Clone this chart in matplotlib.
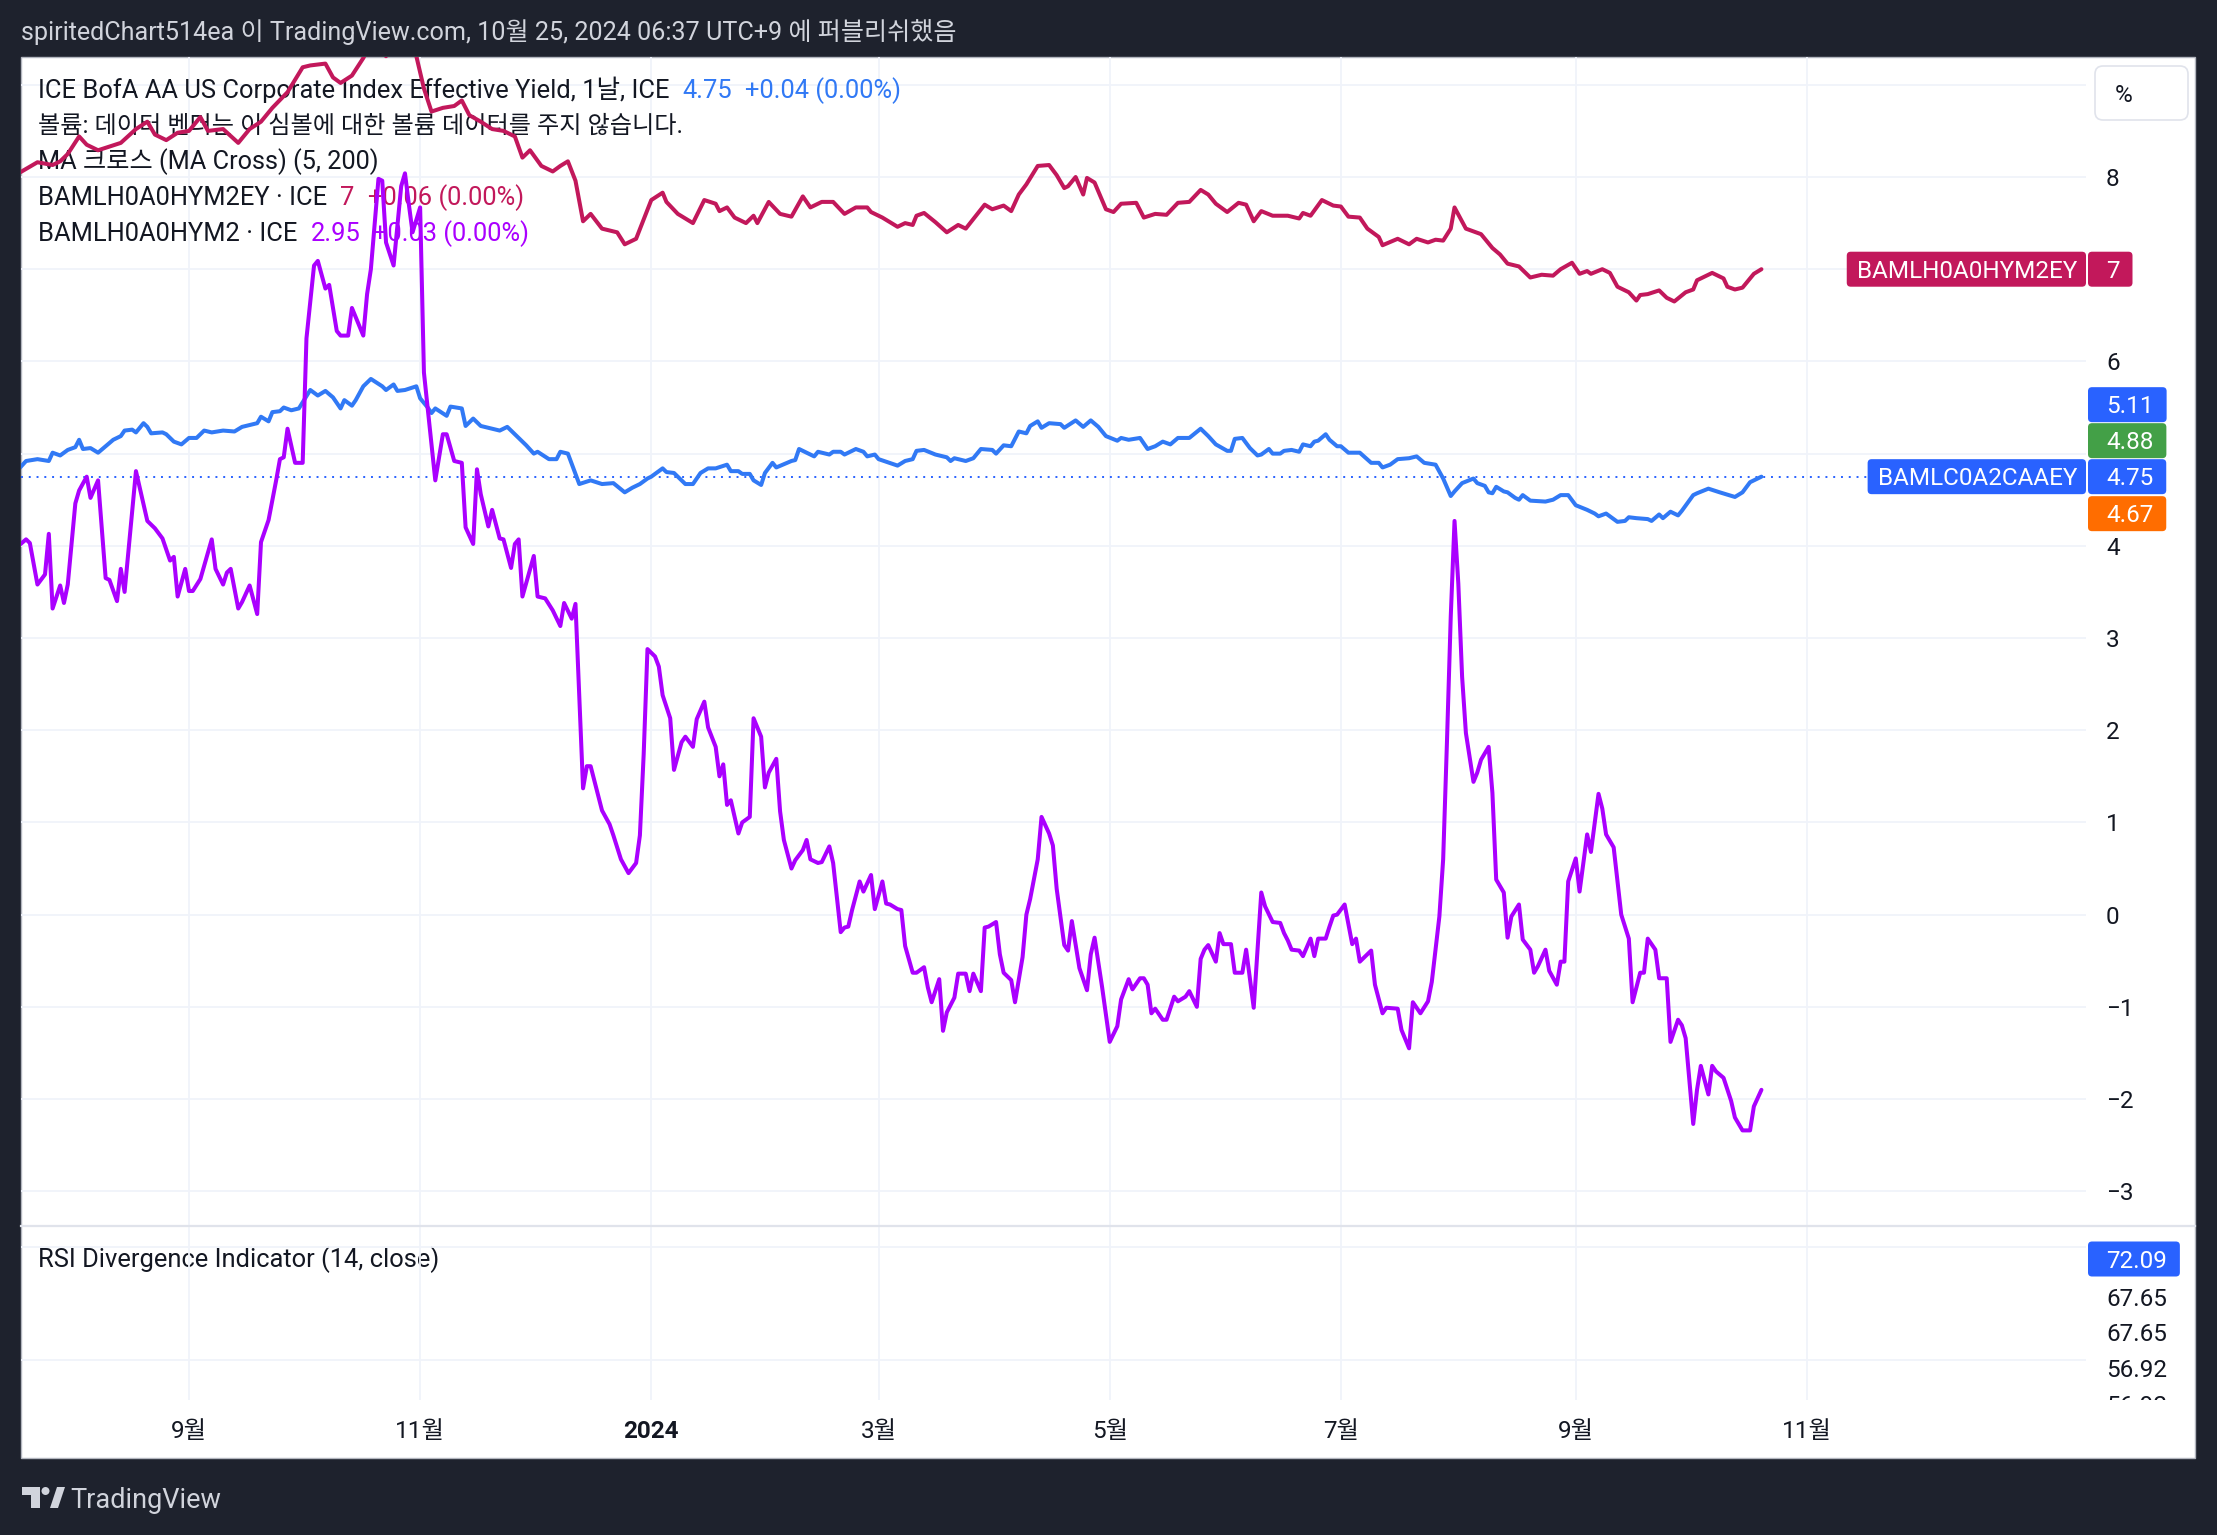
import matplotlib
matplotlib.use("Agg")
import matplotlib.pyplot as plt
import matplotlib.transforms as mtransforms
from matplotlib.patches import Rectangle, FancyBboxPatch, Polygon, Circle
from matplotlib.lines import Line2D
import pandas as pd

plt.rcParams['font.family'] = ['Roboto', 'Noto Sans CJK KR', 'DejaVu Sans']

# ------------------------------------------------------------------ data
hy_ey_dates = [
    "2023-07-18", "2023-07-23", "2023-07-27", "2023-07-29", "2023-07-31",
    "2023-08-03", "2023-08-05", "2023-08-08", "2023-08-11", "2023-08-14", "2023-08-18", "2023-08-21", "2023-08-23", "2023-08-26", "2023-08-29",
    "2023-09-01", "2023-09-04", "2023-09-06", "2023-09-10", "2023-09-14", "2023-09-17", "2023-09-20", "2023-09-23", "2023-09-27",
    "2023-10-01", "2023-10-03", "2023-10-07", "2023-10-09", "2023-10-11", "2023-10-14", "2023-10-17", "2023-10-19", "2023-10-21", "2023-10-23", "2023-10-26", "2023-10-28", "2023-10-30", "2023-10-31",
    "2023-11-02", "2023-11-04", "2023-11-07", "2023-11-10", "2023-11-12", "2023-11-14", "2023-11-17", "2023-11-20", "2023-11-23", "2023-11-26", "2023-11-28", "2023-11-30",
    "2023-12-03", "2023-12-06", "2023-12-08", "2023-12-10", "2023-12-12", "2023-12-14", "2023-12-16", "2023-12-19", "2023-12-23", "2023-12-25", "2023-12-28",
    "2024-01-01", "2024-01-04", "2024-01-05", "2024-01-08", "2024-01-12", "2024-01-15", "2024-01-18", "2024-01-19", "2024-01-21", "2024-01-23", "2024-01-26", "2024-01-28", "2024-01-29",
    "2024-02-01", "2024-02-04", "2024-02-07", "2024-02-10", "2024-02-12", "2024-02-15", "2024-02-18", "2024-02-21", "2024-02-24", "2024-02-27", "2024-02-28",
    "2024-03-02", "2024-03-06", "2024-03-08", "2024-03-10", "2024-03-11", "2024-03-13", "2024-03-16", "2024-03-19", "2024-03-22", "2024-03-24", "2024-03-29", "2024-03-31",
    "2024-04-03", "2024-04-05", "2024-04-07", "2024-04-09", "2024-04-12", "2024-04-15", "2024-04-17", "2024-04-19", "2024-04-20", "2024-04-22", "2024-04-24", "2024-04-25", "2024-04-27", "2024-04-30",
    "2024-05-02", "2024-05-04", "2024-05-08", "2024-05-10", "2024-05-13", "2024-05-16", "2024-05-19", "2024-05-22", "2024-05-25", "2024-05-27", "2024-05-29",
    "2024-06-01", "2024-06-04", "2024-06-06", "2024-06-08", "2024-06-10", "2024-06-13", "2024-06-17", "2024-06-20", "2024-06-21", "2024-06-23", "2024-06-26", "2024-06-29",
    "2024-07-01", "2024-07-03", "2024-07-06", "2024-07-08", "2024-07-11", "2024-07-12", "2024-07-16", "2024-07-19", "2024-07-21", "2024-07-24", "2024-07-26", "2024-07-28", "2024-07-30", "2024-07-31",
    "2024-08-03", "2024-08-07", "2024-08-10", "2024-08-12", "2024-08-14", "2024-08-17", "2024-08-20", "2024-08-23", "2024-08-26", "2024-08-28", "2024-08-31",
    "2024-09-02", "2024-09-04", "2024-09-05", "2024-09-08", "2024-09-10", "2024-09-12", "2024-09-14", "2024-09-15", "2024-09-17", "2024-09-18", "2024-09-20", "2024-09-23", "2024-09-25", "2024-09-27", "2024-09-30",
    "2024-10-02", "2024-10-03", "2024-10-05", "2024-10-07", "2024-10-10", "2024-10-11", "2024-10-13", "2024-10-15", "2024-10-18", "2024-10-20",
]
hy_ey_values = [
    8.04, 8.16, 8.13, 8.17, 8.25,
    8.44, 8.35, 8.29, 8.33, 8.37, 8.52, 8.60, 8.46, 8.40, 8.48,
    8.50, 8.65, 8.50, 8.52, 8.37, 8.52, 8.60, 8.75, 8.92,
    9.19, 9.21, 9.23, 9.08, 9.02, 9.10, 9.29, 9.45, 9.40, 9.31, 9.55, 9.62, 9.48, 9.31,
    8.96, 8.71, 8.75, 8.77, 8.83, 8.67, 8.60, 8.52, 8.50, 8.44, 8.21, 8.29,
    8.12, 8.06, 8.12, 8.17, 7.96, 7.52, 7.60, 7.44, 7.40, 7.27, 7.33,
    7.75, 7.83, 7.73, 7.60, 7.50, 7.75, 7.71, 7.63, 7.67, 7.56, 7.50, 7.58, 7.50,
    7.73, 7.60, 7.57, 7.79, 7.67, 7.73, 7.73, 7.60, 7.67, 7.67, 7.62,
    7.56, 7.46, 7.50, 7.48, 7.58, 7.61, 7.51, 7.40, 7.48, 7.44, 7.70, 7.65,
    7.69, 7.63, 7.81, 7.92, 8.12, 8.13, 8.02, 7.88, 7.90, 8.00, 7.81, 7.99, 7.94, 7.65,
    7.62, 7.71, 7.72, 7.56, 7.60, 7.59, 7.72, 7.73, 7.86, 7.81, 7.71,
    7.62, 7.72, 7.70, 7.52, 7.63, 7.58, 7.58, 7.55, 7.61, 7.58, 7.75, 7.69,
    7.68, 7.57, 7.56, 7.44, 7.35, 7.26, 7.33, 7.27, 7.33, 7.29, 7.32, 7.31, 7.44, 7.67,
    7.44, 7.38, 7.23, 7.16, 7.06, 7.03, 6.91, 6.94, 6.93, 7.00, 7.07,
    6.95, 6.98, 6.95, 7.00, 6.96, 6.81, 6.77, 6.75, 6.66, 6.72, 6.73, 6.77, 6.69, 6.65, 6.75,
    6.78, 6.88, 6.92, 6.96, 6.90, 6.81, 6.78, 6.80, 6.95, 7.00,
]

aa_ey_dates = [
    "2023-07-18", "2023-07-20", "2023-07-23", "2023-07-26", "2023-07-27", "2023-07-29", "2023-07-31",
    "2023-08-02", "2023-08-03", "2023-08-04", "2023-08-06", "2023-08-08", "2023-08-10", "2023-08-12", "2023-08-14", "2023-08-15", "2023-08-17", "2023-08-18", "2023-08-20", "2023-08-21", "2023-08-22", "2023-08-25", "2023-08-26", "2023-08-28", "2023-08-30",
    "2023-09-01", "2023-09-03", "2023-09-05", "2023-09-07", "2023-09-10", "2023-09-13", "2023-09-15", "2023-09-17", "2023-09-19", "2023-09-20", "2023-09-22", "2023-09-23", "2023-09-25", "2023-09-26", "2023-09-28", "2023-09-30",
    "2023-10-03", "2023-10-05", "2023-10-07", "2023-10-09", "2023-10-11", "2023-10-12", "2023-10-14", "2023-10-15", "2023-10-17", "2023-10-19", "2023-10-22", "2023-10-23", "2023-10-25", "2023-10-26", "2023-10-28", "2023-10-31",
    "2023-11-01", "2023-11-03", "2023-11-04", "2023-11-05", "2023-11-08", "2023-11-09", "2023-11-12", "2023-11-13", "2023-11-15", "2023-11-17", "2023-11-20", "2023-11-22", "2023-11-24", "2023-11-27", "2023-11-29",
    "2023-12-01", "2023-12-02", "2023-12-05", "2023-12-07", "2023-12-08", "2023-12-10", "2023-12-13", "2023-12-16", "2023-12-19", "2023-12-22", "2023-12-25", "2023-12-27", "2023-12-29", "2023-12-31",
    "2024-01-01", "2024-01-04", "2024-01-05", "2024-01-07", "2024-01-10", "2024-01-12", "2024-01-14", "2024-01-16", "2024-01-18", "2024-01-21", "2024-01-22", "2024-01-24", "2024-01-25", "2024-01-27", "2024-01-28", "2024-01-30", "2024-01-31",
    "2024-02-02", "2024-02-03", "2024-02-07", "2024-02-08", "2024-02-09", "2024-02-13", "2024-02-14", "2024-02-17", "2024-02-18", "2024-02-20", "2024-02-21", "2024-02-24", "2024-02-26", "2024-02-27", "2024-02-29",
    "2024-03-01", "2024-03-06", "2024-03-08", "2024-03-10", "2024-03-11", "2024-03-13", "2024-03-16", "2024-03-19", "2024-03-20", "2024-03-21", "2024-03-24", "2024-03-26", "2024-03-28", "2024-03-31",
    "2024-04-01", "2024-04-03", "2024-04-05", "2024-04-07", "2024-04-09", "2024-04-10", "2024-04-12", "2024-04-13", "2024-04-15", "2024-04-18", "2024-04-19", "2024-04-22", "2024-04-24", "2024-04-26", "2024-04-28", "2024-04-30",
    "2024-05-03", "2024-05-04", "2024-05-06", "2024-05-09", "2024-05-11", "2024-05-13", "2024-05-15", "2024-05-17", "2024-05-19", "2024-05-22", "2024-05-25", "2024-05-27", "2024-05-29",
    "2024-06-01", "2024-06-02", "2024-06-03", "2024-06-05", "2024-06-07", "2024-06-09", "2024-06-10", "2024-06-12", "2024-06-13", "2024-06-15", "2024-06-16", "2024-06-18", "2024-06-20", "2024-06-21", "2024-06-23", "2024-06-24", "2024-06-25", "2024-06-27", "2024-06-28", "2024-06-30",
    "2024-07-01", "2024-07-03", "2024-07-06", "2024-07-09", "2024-07-11", "2024-07-12", "2024-07-14", "2024-07-16", "2024-07-19", "2024-07-21", "2024-07-23", "2024-07-26", "2024-07-28", "2024-07-30", "2024-07-31",
    "2024-08-02", "2024-08-05", "2024-08-06", "2024-08-08", "2024-08-09", "2024-08-10", "2024-08-11", "2024-08-13", "2024-08-14", "2024-08-16", "2024-08-17", "2024-08-18", "2024-08-20", "2024-08-24", "2024-08-26", "2024-08-28", "2024-08-30",
    "2024-09-01", "2024-09-04", "2024-09-06", "2024-09-07", "2024-09-09", "2024-09-12", "2024-09-14", "2024-09-15", "2024-09-17", "2024-09-20", "2024-09-21", "2024-09-23", "2024-09-24", "2024-09-26", "2024-09-28", "2024-09-29",
    "2024-10-02", "2024-10-03", "2024-10-06", "2024-10-09", "2024-10-13", "2024-10-15", "2024-10-17", "2024-10-20",
]
aa_ey_values = [
    4.83, 4.92, 4.94, 4.92, 5.01, 4.98, 5.04,
    5.07, 5.15, 5.05, 5.06, 5.01, 5.08, 5.15, 5.19, 5.25, 5.26, 5.23, 5.33, 5.29, 5.22, 5.23, 5.21, 5.13, 5.10,
    5.17, 5.17, 5.25, 5.23, 5.25, 5.24, 5.29, 5.31, 5.33, 5.40, 5.35, 5.45, 5.46, 5.50, 5.47, 5.49,
    5.69, 5.63, 5.68, 5.61, 5.49, 5.58, 5.52, 5.58, 5.73, 5.81, 5.73, 5.69, 5.75, 5.68, 5.69, 5.73,
    5.60, 5.50, 5.44, 5.49, 5.41, 5.51, 5.49, 5.30, 5.38, 5.30, 5.27, 5.25, 5.29, 5.17, 5.09,
    5.00, 5.02, 4.94, 4.94, 5.02, 5.00, 4.67, 4.71, 4.67, 4.68, 4.58, 4.63, 4.67, 4.73,
    4.75, 4.84, 4.80, 4.79, 4.67, 4.67, 4.79, 4.84, 4.84, 4.88, 4.81, 4.81, 4.78, 4.78, 4.71, 4.66, 4.79,
    4.90, 4.85, 4.92, 4.93, 5.05, 4.97, 5.02, 4.99, 5.02, 5.02, 4.99, 5.05, 5.02, 4.97, 4.99,
    4.94, 4.87, 4.92, 4.94, 5.03, 5.04, 4.99, 4.96, 4.92, 4.95, 4.92, 4.95, 5.05, 5.04,
    5.00, 5.09, 5.08, 5.24, 5.22, 5.30, 5.35, 5.28, 5.33, 5.32, 5.28, 5.36, 5.29, 5.36, 5.29, 5.19,
    5.14, 5.17, 5.15, 5.17, 5.05, 5.08, 5.13, 5.10, 5.17, 5.17, 5.27, 5.19, 5.10,
    5.03, 5.03, 5.16, 5.17, 5.06, 4.98, 4.99, 5.05, 5.00, 5.00, 5.03, 5.04, 5.02, 5.10, 5.08, 5.13, 5.14, 5.21, 5.15, 5.08,
    5.08, 5.01, 5.01, 4.90, 4.90, 4.85, 4.88, 4.94, 4.95, 4.97, 4.90, 4.88, 4.73, 4.54, 4.59,
    4.68, 4.73, 4.68, 4.65, 4.58, 4.57, 4.64, 4.59, 4.58, 4.52, 4.50, 4.55, 4.49, 4.48, 4.50, 4.55, 4.55,
    4.44, 4.39, 4.35, 4.32, 4.35, 4.26, 4.27, 4.31, 4.30, 4.29, 4.27, 4.34, 4.30, 4.37, 4.33, 4.38,
    4.55, 4.57, 4.62, 4.58, 4.53, 4.58, 4.69, 4.75,
]

oas_dates = [
    "2023-07-18", "2023-07-20", "2023-07-21", "2023-07-23", "2023-07-25", "2023-07-26", "2023-07-27", "2023-07-29", "2023-07-30", "2023-07-31",
    "2023-08-02", "2023-08-03", "2023-08-05", "2023-08-06", "2023-08-08", "2023-08-10", "2023-08-11", "2023-08-13", "2023-08-14", "2023-08-15", "2023-08-18", "2023-08-21", "2023-08-23", "2023-08-25", "2023-08-27", "2023-08-28", "2023-08-29", "2023-08-31",
    "2023-09-01", "2023-09-02", "2023-09-04", "2023-09-07", "2023-09-08", "2023-09-10", "2023-09-11", "2023-09-12", "2023-09-14", "2023-09-15", "2023-09-17", "2023-09-19", "2023-09-20", "2023-09-22", "2023-09-24", "2023-09-25", "2023-09-26", "2023-09-27", "2023-09-29",
    "2023-10-01", "2023-10-02", "2023-10-04", "2023-10-05", "2023-10-07", "2023-10-08", "2023-10-10", "2023-10-11", "2023-10-13", "2023-10-14", "2023-10-17", "2023-10-18", "2023-10-19", "2023-10-21", "2023-10-22", "2023-10-23", "2023-10-25", "2023-10-27", "2023-10-28", "2023-10-29", "2023-10-30",
    "2023-11-01", "2023-11-02", "2023-11-04", "2023-11-05", "2023-11-07", "2023-11-08", "2023-11-10", "2023-11-12", "2023-11-13", "2023-11-15", "2023-11-16", "2023-11-17", "2023-11-19", "2023-11-20", "2023-11-22", "2023-11-23", "2023-11-25", "2023-11-26", "2023-11-27", "2023-11-28",
    "2023-12-01", "2023-12-02", "2023-12-04", "2023-12-06", "2023-12-08", "2023-12-09", "2023-12-11", "2023-12-12", "2023-12-14", "2023-12-15", "2023-12-16", "2023-12-19", "2023-12-21", "2023-12-22", "2023-12-24", "2023-12-26", "2023-12-28", "2023-12-29", "2023-12-30", "2023-12-31",
    "2024-01-02", "2024-01-03", "2024-01-04", "2024-01-06", "2024-01-07", "2024-01-09", "2024-01-10", "2024-01-12", "2024-01-13", "2024-01-15", "2024-01-16", "2024-01-18", "2024-01-19", "2024-01-20", "2024-01-21", "2024-01-22", "2024-01-24", "2024-01-25", "2024-01-27", "2024-01-28", "2024-01-30", "2024-01-31",
    "2024-02-01", "2024-02-03", "2024-02-04", "2024-02-05", "2024-02-07", "2024-02-08", "2024-02-10", "2024-02-11", "2024-02-12", "2024-02-14", "2024-02-15", "2024-02-17", "2024-02-18", "2024-02-20", "2024-02-21", "2024-02-22", "2024-02-23", "2024-02-25", "2024-02-26", "2024-02-28", "2024-02-29",
    "2024-03-02", "2024-03-03", "2024-03-04", "2024-03-06", "2024-03-07", "2024-03-08", "2024-03-10", "2024-03-11", "2024-03-13", "2024-03-14", "2024-03-15", "2024-03-17", "2024-03-18", "2024-03-19", "2024-03-21", "2024-03-22", "2024-03-24", "2024-03-25", "2024-03-26", "2024-03-28", "2024-03-29", "2024-03-30",
    "2024-04-01", "2024-04-02", "2024-04-03", "2024-04-05", "2024-04-06", "2024-04-08", "2024-04-09", "2024-04-10", "2024-04-12", "2024-04-13", "2024-04-15", "2024-04-16", "2024-04-17", "2024-04-19", "2024-04-20", "2024-04-21", "2024-04-23", "2024-04-25", "2024-04-26", "2024-04-27", "2024-04-29",
    "2024-05-01", "2024-05-03", "2024-05-04", "2024-05-06", "2024-05-07", "2024-05-09", "2024-05-10", "2024-05-11", "2024-05-12", "2024-05-13", "2024-05-15", "2024-05-16", "2024-05-18", "2024-05-19", "2024-05-21", "2024-05-22", "2024-05-24", "2024-05-25", "2024-05-26", "2024-05-27", "2024-05-29", "2024-05-30", "2024-05-31",
    "2024-06-02", "2024-06-03", "2024-06-05", "2024-06-06", "2024-06-08", "2024-06-10", "2024-06-11", "2024-06-13", "2024-06-15", "2024-06-16", "2024-06-17", "2024-06-18", "2024-06-20", "2024-06-21", "2024-06-23", "2024-06-24", "2024-06-25", "2024-06-27", "2024-06-28", "2024-06-29", "2024-06-30",
    "2024-07-02", "2024-07-04", "2024-07-05", "2024-07-06", "2024-07-09", "2024-07-10", "2024-07-12", "2024-07-13", "2024-07-16", "2024-07-17", "2024-07-19", "2024-07-20", "2024-07-22", "2024-07-24", "2024-07-25", "2024-07-26", "2024-07-27", "2024-07-28", "2024-07-29", "2024-07-30", "2024-07-31",
    "2024-08-01", "2024-08-02", "2024-08-03", "2024-08-05", "2024-08-06", "2024-08-07", "2024-08-09", "2024-08-10", "2024-08-11", "2024-08-13", "2024-08-14", "2024-08-15", "2024-08-17", "2024-08-18", "2024-08-20", "2024-08-21", "2024-08-22", "2024-08-24", "2024-08-25", "2024-08-27", "2024-08-28", "2024-08-29", "2024-08-30",
    "2024-09-01", "2024-09-02", "2024-09-04", "2024-09-05", "2024-09-07", "2024-09-08", "2024-09-09", "2024-09-11", "2024-09-12", "2024-09-13", "2024-09-15", "2024-09-16", "2024-09-18", "2024-09-19", "2024-09-20", "2024-09-22", "2024-09-23", "2024-09-25", "2024-09-26", "2024-09-28", "2024-09-29", "2024-09-30",
    "2024-10-02", "2024-10-03", "2024-10-04", "2024-10-06", "2024-10-07", "2024-10-08", "2024-10-10", "2024-10-12", "2024-10-13", "2024-10-15", "2024-10-17", "2024-10-18", "2024-10-20",
]
oas_values = [
    4.00, 4.07, 4.03, 3.58, 3.69, 4.13, 3.32, 3.57, 3.38, 3.58,
    4.46, 4.60, 4.75, 4.52, 4.71, 3.65, 3.63, 3.40, 3.75, 3.50, 4.81, 4.27, 4.19, 4.08, 3.84, 3.88, 3.45, 3.75,
    3.51, 3.51, 3.64, 4.07, 3.75, 3.58, 3.71, 3.75, 3.32, 3.39, 3.57, 3.26, 4.04, 4.28, 4.71, 4.94, 4.96, 5.27, 4.90,
    4.90, 6.25, 7.04, 7.09, 6.79, 6.83, 6.33, 6.28, 6.28, 6.58, 6.28, 6.73, 7.00, 7.98, 7.96, 7.29, 7.04, 7.90, 8.04, 7.71, 7.40,
    7.67, 5.88, 5.10, 4.71, 5.21, 5.21, 4.92, 4.90, 4.20, 4.02, 4.83, 4.56, 4.21, 4.39, 4.08, 4.07, 3.76, 4.02, 4.07, 3.45,
    3.89, 3.45, 3.43, 3.30, 3.13, 3.38, 3.21, 3.37, 1.37, 1.61, 1.61, 1.13, 0.98, 0.86, 0.60, 0.45, 0.56, 0.86, 1.74, 2.88,
    2.80, 2.69, 2.38, 2.13, 1.57, 1.87, 1.93, 1.82, 2.12, 2.31, 2.03, 1.82, 1.50, 1.63, 1.19, 1.24, 0.88, 1.00, 1.06, 2.13, 1.93, 1.38,
    1.54, 1.69, 1.12, 0.81, 0.50, 0.59, 0.70, 0.81, 0.60, 0.56, 0.57, 0.74, 0.56, -0.19, -0.14, -0.13, 0.05, 0.36, 0.25, 0.43, 0.06,
    0.36, 0.12, 0.11, 0.06, 0.05, -0.34, -0.63, -0.63, -0.57, -0.79, -0.95, -0.70, -1.26, -1.06, -0.90, -0.64, -0.64, -0.83, -0.64, -0.83, -0.14, -0.13,
    -0.08, -0.43, -0.63, -0.71, -0.95, -0.46, 0.00, 0.17, 0.60, 1.06, 0.88, 0.75, 0.28, -0.33, -0.39, -0.07, -0.58, -0.82, -0.43, -0.25, -0.79,
    -1.38, -1.21, -0.92, -0.70, -0.81, -0.69, -0.69, -0.76, -1.07, -1.02, -1.14, -1.14, -0.89, -0.94, -0.89, -0.83, -1.00, -0.48, -0.38, -0.33, -0.51, -0.20, -0.32,
    -0.32, -0.63, -0.63, -0.38, -1.01, 0.24, 0.09, -0.08, -0.09, -0.20, -0.28, -0.38, -0.39, -0.45, -0.26, -0.45, -0.26, -0.26, -0.13, -0.01, 0.00,
    0.11, -0.32, -0.26, -0.51, -0.39, -0.76, -1.07, -1.01, -1.02, -1.25, -1.45, -0.95, -1.07, -0.94, -0.73, -0.38, -0.02, 0.60, 1.87, 3.23, 4.27,
    3.59, 2.58, 1.97, 1.44, 1.54, 1.68, 1.82, 1.32, 0.38, 0.24, -0.25, -0.02, 0.11, -0.27, -0.38, -0.63, -0.56, -0.38, -0.61, -0.76, -0.51, -0.51, 0.36,
    0.61, 0.25, 0.87, 0.68, 1.31, 1.15, 0.87, 0.73, 0.36, 0.00, -0.26, -0.95, -0.63, -0.63, -0.26, -0.38, -0.69, -0.69, -1.38, -1.14, -1.20, -1.34,
    -2.27, -1.90, -1.64, -1.95, -1.64, -1.70, -1.77, -2.02, -2.20, -2.34, -2.34, -2.08, -1.90,
]

month_ticks = ["2023-09-01", "2023-11-01", "2024-01-01", "2024-03-01",
               "2024-05-01", "2024-07-01", "2024-09-01", "2024-11-01"]
month_labels = ["9월", "11월", "2024", "3월", "5월", "7월", "9월", "11월"]
price_ticks = list(range(-3, 10))
price_labels = ["−3", "−2", "−1", "0", "1", "2", "3", "4", "", "6", "", "8", ""]

last_aa = 4.75
last_hy = 7
ma_fast, ma_slow, ma_other = 4.88, 5.11, 4.67
rsi_last = "72.09"
rsi_scale_labels = ["67.65", "67.65", "56.92", "56.92"]

header_text = "spiritedChart514ea 이 TradingView.com, 10월 25, 2024 06:37 UTC+9 에 퍼블리쉬했음"
legend_rows = [
    [("ICE BofA AA US Corporate Index Effective Yield, 1날, ICE", "k"), ("4.75", "aa"), ("+0.04 (0.00%)", "aa")],
    [("볼륨: 데이터 벤더는 이 심볼에 대한 볼륨 데이터를 주지 않습니다.", "k")],
    [("MA 크로스 (MA Cross) (5, 200)", "k")],
    [("BAMLH0A0HYM2EY · ICE", "k"), ("7", "hy"), ("+0.06 (0.00%)", "hy")],
    [("BAMLH0A0HYM2 · ICE", "k"), ("2.95", "oas"), ("+0.03 (0.00%)", "oas")],
]
rsi_title = "RSI Divergence Indicator (14, close)"

# ------------------------------------------------------------------ style
W, H = 2217, 1535
BG = "#1E222D"
TXT = "#131722"
GRID = "#F0F3FA"
C_HY = "#C2185B"
C_AA = "#3179F5"
C_AA_BADGE = "#2962FF"
C_OAS = "#AA00FF"
C_GREEN = "#43A047"
C_ORANGE = "#FF6D00"
FS = 17.5          # price / time scale labels, badges
FS_LEG = 18.4      # legend rows
FS_HEAD = 18.1     # header
row_sizes = [FS_LEG, 17.4, 18.2, FS_LEG, FS_LEG]   # Korean-heavy rows a bit smaller
LW = 2.9
colors = {"k": TXT, "aa": C_AA, "hy": C_HY, "oas": C_OAS}
ID = mtransforms.IdentityTransform()

fig = plt.figure(figsize=(W / 100, H / 100), dpi=100)
fig.patch.set_facecolor(BG)


def R(x0, y0, x1, y1):
    return [x0 / W, 1 - y1 / H, (x1 - x0) / W, (y1 - y0) / H]


# white chart panel
fig.add_artist(Rectangle((21 / W, 1 - 1458 / H), (2195 - 21) / W, (1458 - 57) / H,
                         transform=fig.transFigure, fc="white", ec="#B2B5BE", lw=1, zorder=-5))

ax = fig.add_axes(R(21, 57, 2086, 1225))
rsi = fig.add_axes(R(21, 1227, 2086, 1400), sharex=ax)
for a in (ax, rsi):
    a.set_facecolor("none")
    for s in a.spines.values():
        s.set_visible(False)
    a.set_axisbelow(True)

ax.plot(pd.to_datetime(hy_ey_dates), hy_ey_values, color=C_HY, lw=LW,
        solid_joinstyle="round", solid_capstyle="round", zorder=3)
ax.plot(pd.to_datetime(aa_ey_dates), aa_ey_values, color=C_AA, lw=LW,
        solid_joinstyle="round", solid_capstyle="round", zorder=3)
ax.plot(pd.to_datetime(oas_dates), oas_values, color=C_OAS, lw=LW,
        solid_joinstyle="round", solid_capstyle="round", zorder=3)
ax.axhline(last_aa, color=C_AA_BADGE, lw=1.4, ls=(0, (1, 3)), zorder=2.8)

base = pd.Timestamp("2023-09-01")
ax.set_xlim(base - pd.Timedelta(days=44.34), base + pd.Timedelta(days=500.66))
ax.set_ylim(-3.366, 9.3015)
ax.set_xticks(pd.to_datetime(month_ticks))
ax.grid(True, color=GRID, lw=1.3)
ax.yaxis.tick_right()
ax.set_yticks(price_ticks)
ax.set_yticklabels(price_labels)
ax.tick_params(axis="y", length=0, pad=14.4, labelsize=FS, labelcolor=TXT)
ax.tick_params(axis="x", length=0, labelbottom=False)

rsi.set_ylim(0, 1)
rsi.set_yticks([0.231, 0.886])
rsi.tick_params(axis="y", length=0, labelleft=False, labelright=False)
rsi.grid(True, color=GRID, lw=1.3)
rsi.set_xticks(pd.to_datetime(month_ticks))
rsi.set_xticklabels(month_labels)
rsi.tick_params(axis="x", length=0, pad=14.5, labelsize=FS, labelcolor=TXT)
rsi.get_xticklabels()[2].set_fontweight("bold")

# pane separator
fig.add_artist(Line2D([21 / W, 2195 / W], [1 - 1226 / H] * 2, transform=fig.transFigure,
                      color="#E0E3EB", lw=1.6, zorder=4))

renderer = fig.canvas.get_renderer()

# header & footer
fig.text(21, H - 40, header_text, transform=ID, color="#D1D4DC", fontsize=FS_HEAD,
         ha="left", va="baseline")
fig.text(70, H - 1508, "TradingView", transform=ID, color="#D1D4DC", fontsize=19.5,
         ha="left", va="baseline")
logo = "#D1D4DC"
fig.add_artist(Polygon([(22, H - 1487), (40, H - 1487), (40, H - 1508), (31, H - 1508),
                        (31, H - 1495), (22, H - 1495)], closed=True, transform=ID,
                       fc=logo, ec="none"))
fig.add_artist(Circle((45.5, H - 1491), 4, transform=ID, fc=logo, ec="none"))
fig.add_artist(Polygon([(50, H - 1508), (57, H - 1487), (65, H - 1487), (58, H - 1508)],
                       closed=True, transform=ID, fc=logo, ec="none"))

# legend rows (drawn under the lines)
baselines = [98, 133, 169, 205, 241]
for row, yb, fsz in zip(legend_rows, baselines, row_sizes):
    x = 38
    for txt, ck in row:
        t = ax.text(x, H - yb, txt, transform=ID, color=colors[ck], fontsize=fsz,
                    ha="left", va="baseline", zorder=2.5)
        x = t.get_window_extent(renderer).x1 + 13

ax.text(38, H - 1267, rsi_title, transform=ID, color=TXT, fontsize=FS_LEG,
        ha="left", va="baseline", zorder=2.5)

# price-scale badges
BOX_H = 35
HALF_CAP = 8.6


def yc_of(val):
    return ax.transData.transform((0, val))[1]


def value_badge(text, yc, color):
    t = fig.text(2106, yc - HALF_CAP, text, transform=ID, color="white", fontsize=FS,
                 ha="left", va="baseline", zorder=11)
    bb = t.get_window_extent(renderer)
    fig.add_artist(FancyBboxPatch((2088, yc - BOX_H / 2), bb.x1 + 13 - 2088, BOX_H,
                                  boxstyle="round,pad=0,rounding_size=4", transform=ID,
                                  fc=color, ec="none", zorder=10))


def name_badge(text, yc, color):
    t = fig.text(2077, yc - HALF_CAP, text, transform=ID, color="white", fontsize=FS,
                 ha="right", va="baseline", zorder=11)
    bb = t.get_window_extent(renderer)
    fig.add_artist(FancyBboxPatch((bb.x0 - 10, yc - BOX_H / 2), 2086 - (bb.x0 - 10), BOX_H,
                                  boxstyle="round,pad=0,rounding_size=4", transform=ID,
                                  fc=color, ec="none", zorder=10))


y_hy = yc_of(last_hy)
name_badge("BAMLH0A0HYM2EY", y_hy, C_HY)
value_badge(f"{last_hy}", y_hy, C_HY)

y_aa = yc_of(last_aa)
step = BOX_H + 1
name_badge("BAMLC0A2CAAEY", y_aa, C_AA_BADGE)
value_badge(f"{last_aa:.2f}", y_aa, C_AA_BADGE)
value_badge(f"{ma_fast:.2f}", y_aa + step, C_GREEN)
value_badge(f"{ma_slow:.2f}", y_aa + 2 * step, C_AA_BADGE)
value_badge(f"{ma_other:.2f}", y_aa - step - 1, C_ORANGE)

# percent button
fig.add_artist(FancyBboxPatch((2095, H - 120), 93, 54, boxstyle="round,pad=0,rounding_size=8",
                              transform=ID, fc="white", ec="#E0E3EB", lw=1.2, zorder=10))
fig.text(2115, H - 93 - HALF_CAP, "%", transform=ID, color=TXT, fontsize=FS,
         ha="left", va="baseline", zorder=11)

# RSI price scale
rs_ax = fig.add_axes(R(2086, 1227, 2195, 1400))
rs_ax.axis("off")
for lab, yc in zip(rsi_scale_labels, [1297, 1332, 1368, 1404]):
    t = rs_ax.text(2106, H - yc - HALF_CAP, lab, transform=ID, color=TXT, fontsize=FS,
                   ha="left", va="baseline", zorder=5)
    t.set_clip_on(True)
    t.set_clip_box(rs_ax.bbox)
t = fig.text(2106, H - 1259 - HALF_CAP, rsi_last, transform=ID, color="white", fontsize=FS,
             ha="left", va="baseline", zorder=11)
bb = t.get_window_extent(renderer)
fig.add_artist(FancyBboxPatch((2088, H - 1259 - BOX_H / 2), bb.x1 + 13 - 2088, BOX_H,
                              boxstyle="round,pad=0,rounding_size=4", transform=ID,
                              fc=C_AA_BADGE, ec="none", zorder=10))

fig.savefig("out.png", dpi=100, facecolor=BG)
